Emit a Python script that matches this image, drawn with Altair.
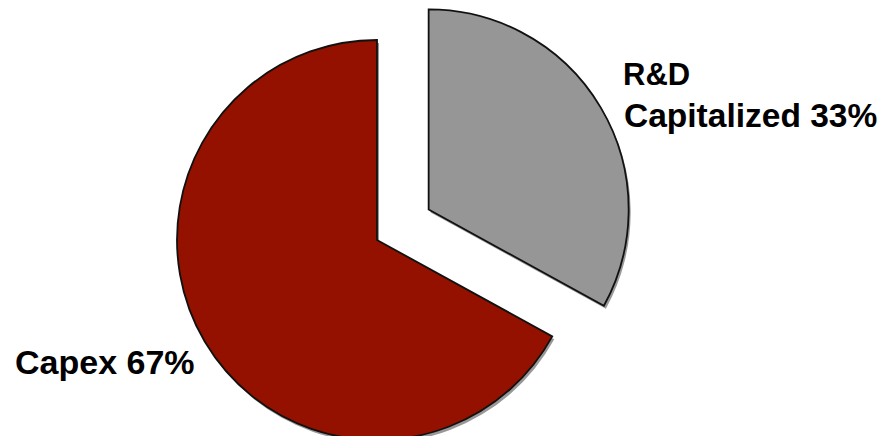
import altair as alt
import pandas as pd

# ---- data ----
categories = ["R&D Capitalized", "Capex"]
values = [33, 67]
colors = ["#969696", "#941100"]
label_lines = ["R&D", "Capitalized 33%", "Capex 67%"]

df = pd.DataFrame({"category": categories, "value": values, "order": list(range(len(categories)))})

W, H = 874, 428
CX, CY = 369, 232
R = 200
EXPLODE = 60

base = (
    alt.Chart(df)
    .transform_joinaggregate(total="sum(value)")
    .transform_window(cum="sum(value)", sort=[alt.SortField("order")])
    .transform_calculate(
        t0="(datum.cum - datum.value) / datum.total * 2 * PI",
        t1="datum.cum / datum.total * 2 * PI",
    )
    .transform_calculate(
        ex=f"datum.category == 'R&D Capitalized' ? {EXPLODE} : 0",
    )
    .transform_calculate(
        cx=f"{CX} + datum.ex * sin((datum.t0 + datum.t1) / 2)",
        cy=f"{CY} - datum.ex * cos((datum.t0 + datum.t1) / 2)",
    )
)

shadow = base.transform_calculate(
    sx="datum.cx + 2", sy="datum.cy + 3"
).mark_arc(radius=R, fill="#444444", opacity=0.55).encode(
    theta=alt.Theta("t0:Q", scale=None),
    theta2="t1:Q",
    x=alt.X("sx:Q", scale=None),
    y=alt.Y("sy:Q", scale=None),
)

pie = base.mark_arc(radius=R, stroke="#111111", strokeWidth=1.8).encode(
    theta=alt.Theta("t0:Q", scale=None),
    theta2="t1:Q",
    x=alt.X("cx:Q", scale=None),
    y=alt.Y("cy:Q", scale=None),
    color=alt.Color("category:N", scale=alt.Scale(domain=categories, range=colors), legend=None),
)

def text_layer(line, x, y, size):
    return alt.Chart(pd.DataFrame({"t": [line]})).mark_text(
        font="Liberation Sans", fontWeight="bold", fontSize=size,
        align="left", baseline="alphabetic", color="#000000",
    ).encode(text="t:N", x=alt.value(x), y=alt.value(y))

t1 = text_layer(label_lines[0], 615, 77, 31)
t2 = text_layer(label_lines[1], 616, 119, 33.5)
t3 = text_layer(label_lines[2], 7, 366, 34)

chart = alt.layer(shadow, pie, t1, t2, t3).properties(
    width=W, height=H, autosize="none", padding=0
).configure_view(stroke=None)

chart.save("out.html", embed_options={"renderer": "svg", "actions": False})
